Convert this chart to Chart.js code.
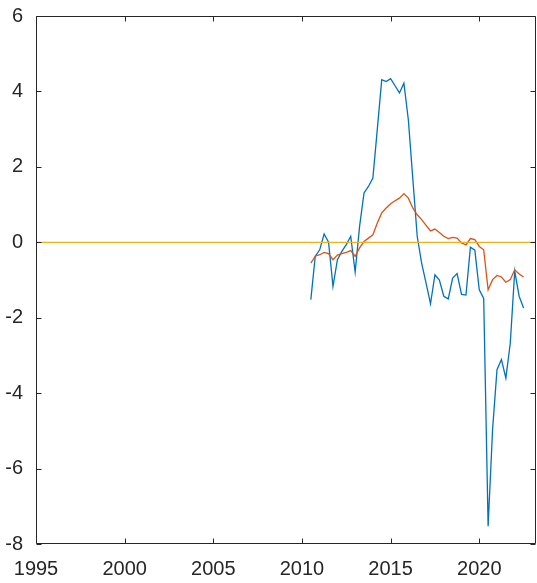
<!DOCTYPE html>
<html>
<head>
<meta charset="utf-8">
<script src="https://cdn.jsdelivr.net/npm/chart.js@4"></script>
<style>
  html, body { margin: 0; padding: 0; background: #fff; }
</style>
</head>
<body>
<canvas id="chart" width="537" height="583"></canvas>
<script>
// quarterly observations, 2010 Q3 to 2022 Q3
const quarters = [
    2010.5, 2010.75, 2011, 2011.25, 2011.5, 2011.75, 2012, 2012.25, 2012.5, 2012.75,
    2013, 2013.25, 2013.5, 2013.75, 2014, 2014.25, 2014.5, 2014.75, 2015, 2015.25,
    2015.5, 2015.75, 2016, 2016.25, 2016.5, 2016.75, 2017, 2017.25, 2017.5, 2017.75,
    2018, 2018.25, 2018.5, 2018.75, 2019, 2019.25, 2019.5, 2019.75, 2020, 2020.25,
    2020.5, 2020.75, 2021, 2021.25, 2021.5, 2021.75, 2022, 2022.25, 2022.5
];

const blueSeries = [
    -1.52, -0.37, -0.2, 0.22, 0.0, -1.17, -0.46, -0.24, -0.06, 0.16,
    -0.79, 0.42, 1.31, 1.48, 1.7, 3.0, 4.31, 4.26, 4.34, 4.15,
    3.96, 4.22, 3.25, 1.7, 0.16, -0.55, -1.08, -1.63, -0.86, -1.0,
    -1.43, -1.5, -0.95, -0.83, -1.38, -1.4, -0.13, -0.21, -1.26, -1.49,
    -7.53, -4.97, -3.38, -3.11, -3.6, -2.67, -0.77, -1.43, -1.74
];

const orangeSeries = [
    -0.55, -0.37, -0.33, -0.27, -0.3, -0.46, -0.34, -0.3, -0.27, -0.22,
    -0.37, -0.15, 0.02, 0.11, 0.2, 0.51, 0.78, 0.91, 1.02, 1.1,
    1.17, 1.29, 1.17, 0.91, 0.73, 0.6, 0.45, 0.3, 0.35, 0.26,
    0.16, 0.1, 0.13, 0.11, -0.02, -0.07, 0.1, 0.07, -0.11, -0.2,
    -1.26, -0.99, -0.88, -0.92, -1.06, -0.99, -0.73, -0.84, -0.92
];

const xRange = [1995, 2023.2];
const xTicks = [1995, 2000, 2005, 2010, 2015, 2020];
const yRange = [-8, 6];
const yTickStep = 2;
const zeroLevel = 0;

const axisColor = "#262626";

// MATLAB-style box with inward ticks on all four sides
const boxPlugin = {
    id: "box",
    afterDatasetsDraw(chart) {
        const { ctx, chartArea: a, scales } = chart;
        const L = Math.round(a.left) + 0.5, R = Math.round(a.right) - 0.5;
        const T = Math.round(a.top) + 0.5, B = Math.round(a.bottom) - 0.5;
        const len = 5;
        ctx.save();
        ctx.strokeStyle = axisColor;
        ctx.lineWidth = 1;
        ctx.beginPath();
        ctx.rect(L, T, R - L, B - T);
        scales.x.ticks.forEach(t => {
            const px = Math.round(scales.x.getPixelForValue(t.value)) + 0.5;
            ctx.moveTo(px, B); ctx.lineTo(px, B - len);
            ctx.moveTo(px, T); ctx.lineTo(px, T + len);
        });
        scales.y.ticks.forEach(t => {
            const py = Math.round(scales.y.getPixelForValue(t.value)) + 0.5;
            ctx.moveTo(L, py); ctx.lineTo(L + len, py);
            ctx.moveTo(R, py); ctx.lineTo(R - len, py);
        });
        ctx.stroke();
        ctx.restore();
    }
};

const ctx = document.getElementById("chart").getContext("2d");

new Chart(ctx, {
    type: "line",
    data: {
        datasets: [
            {
                data: quarters.map((q, i) => ({ x: q, y: blueSeries[i] })),
                borderColor: "#0072BD",
                borderWidth: 1.3,
                pointRadius: 0,
                tension: 0,
                order: 2,
            },
            {
                data: quarters.map((q, i) => ({ x: q, y: orangeSeries[i] })),
                borderColor: "#D95319",
                borderWidth: 1.3,
                pointRadius: 0,
                tension: 0,
                order: 1,
            },
            {
                data: xRange.map(x => ({ x: x, y: zeroLevel })),
                borderColor: "#EDB120",
                borderWidth: 1.3,
                pointRadius: 0,
                order: 0,
            },
        ],
    },
    options: {
        responsive: false,
        animation: false,
        devicePixelRatio: 1,
        layout: {
            padding: { top: 16, right: 1, left: 0, bottom: 0 },
        },
        plugins: {
            legend: { display: false },
            tooltip: { enabled: false },
        },
        scales: {
            x: {
                type: "linear",
                min: xRange[0],
                max: xRange[1],
                grid: { display: false },
                border: { display: false },
                afterBuildTicks: scale => {
                    scale.ticks = xTicks.map(v => ({ value: v }));
                },
                afterFit: scale => {
                    scale.height = 39;
                    scale.paddingLeft = 0;
                    scale.paddingRight = 0;
                },
                ticks: {
                    autoSkip: false,
                    maxRotation: 0,
                    padding: 5,
                    color: axisColor,
                    font: { family: "'Liberation Sans', Arial, sans-serif", size: 20 },
                    callback: v => String(v),
                },
            },
            y: {
                min: yRange[0],
                max: yRange[1],
                grid: { display: false },
                border: { display: false },
                afterFit: scale => {
                    scale.width = 36;
                    scale.paddingTop = 0;
                    scale.paddingBottom = 0;
                },
                ticks: {
                    stepSize: yTickStep,
                    padding: 5,
                    color: axisColor,
                    font: { family: "'Liberation Sans', Arial, sans-serif", size: 20 },
                },
            },
        },
    },
    plugins: [boxPlugin],
});
</script>
</body>
</html>
